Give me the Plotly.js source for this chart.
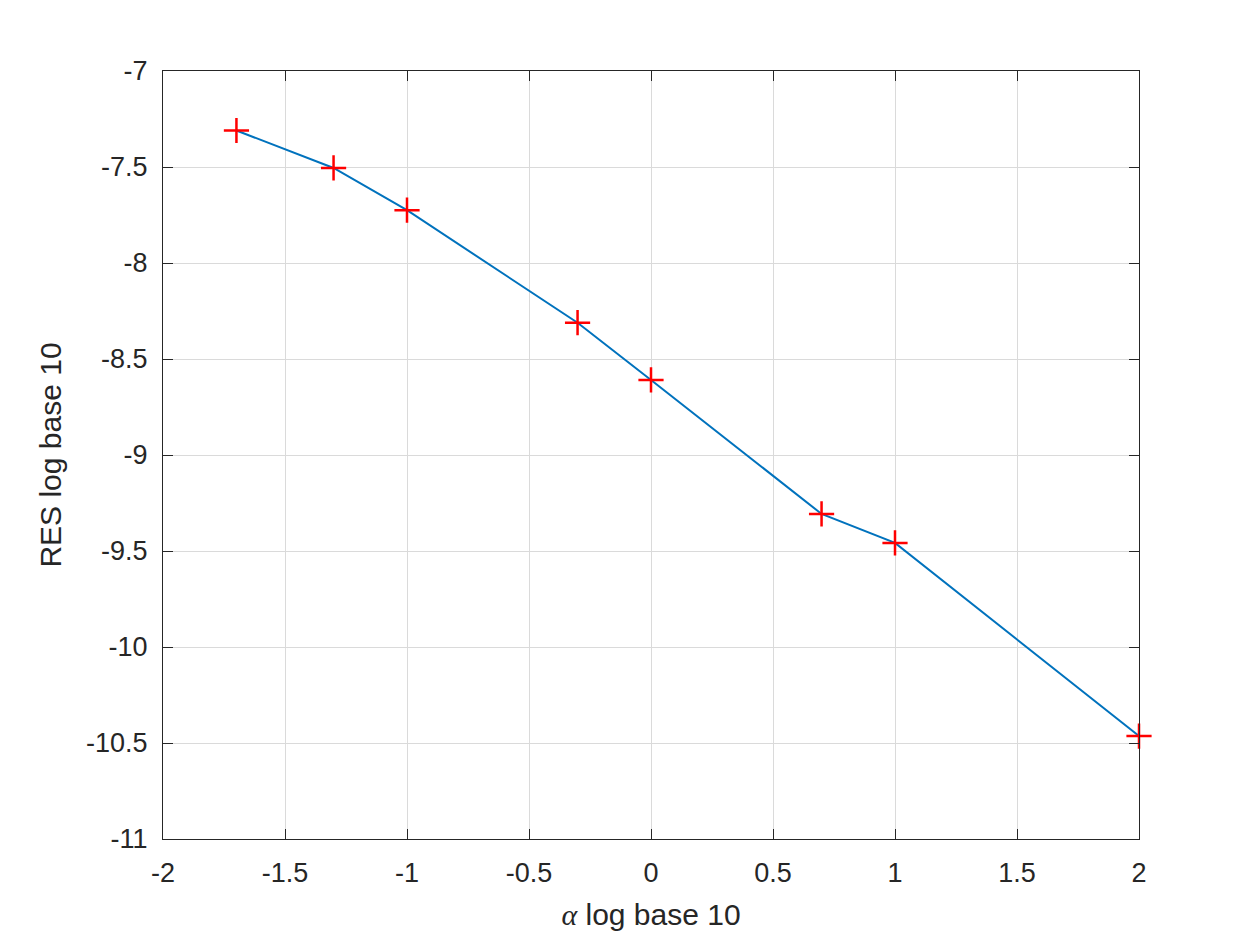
<!DOCTYPE html>
<html>
<head>
<meta charset="utf-8">
<script src="https://cdn.plot.ly/plotly-3.0.1.min.js"></script>
<style>
  html, body { margin: 0; padding: 0; background: #fff; }
  #chart { width: 1260px; height: 945px; }
</style>
</head>
<body>
<div id="chart"></div>
<script>
// alpha (log10) and residual (log10)
const alphaLog = [-1.699, -1.301, -1, -0.301, 0, 0.699, 1, 2];
const resLog = [-7.31, -7.505, -7.725, -8.311, -8.609, -9.307, -9.458, -10.464];

const xTicks = [-2, -1.5, -1, -0.5, 0, 0.5, 1, 1.5, 2];
const xTickText = ['-2', '-1.5', '-1', '-0.5', '0', '0.5', '1', '1.5', '2'];
const yTicks = [-11, -10.5, -10, -9.5, -9, -8.5, -8, -7.5, -7];
const yTickText = ['-11', '-10.5', '-10', '-9.5', '-9', '-8.5', '-8', '-7.5', '-7'];

const axisColor = '#262626';
const fontFamily = 'Liberation Sans, Arial, Helvetica, sans-serif';
const alphaSpan = '<span style="font-family:\'Liberation Serif\',serif;font-style:italic">α</span>';

const lineTrace = {
    x: alphaLog,
    y: resLog,
    type: 'scatter',
    mode: 'lines',
    line: { color: '#0072BD', width: 2 },
    hoverinfo: 'skip',
    cliponaxis: false
};

const markerTrace = {
    x: alphaLog,
    y: resLog,
    type: 'scatter',
    mode: 'markers',
    marker: {
        symbol: 'cross-thin',
        size: 18,
        color: '#ff0000',
        line: { color: '#ff0000', width: 2.5 }
    },
    cliponaxis: false
};

const axisCommon = {
    showline: true,
    linecolor: axisColor,
    linewidth: 1,
    mirror: 'ticks',
    ticks: 'inside',
    ticklen: 10,
    tickwidth: 1,
    tickcolor: axisColor,
    showgrid: true,
    gridcolor: '#dadada',
    gridwidth: 1,
    zeroline: false,
    tickfont: { family: fontFamily, size: 27, color: axisColor },
    tickmode: 'array'
};

const layout = {
    width: 1260,
    height: 945,
    margin: { l: 163, r: 121, t: 71, b: 106 },
    paper_bgcolor: '#ffffff',
    plot_bgcolor: '#ffffff',
    showlegend: false,
    xaxis: Object.assign({}, axisCommon, {
        range: [-2, 2],
        tickvals: xTicks,
        ticktext: xTickText,
        ticklabelstandoff: 10,
        title: { text: alphaSpan + ' log base 10', font: { family: fontFamily, size: 30, color: axisColor }, standoff: 16 }
    }),
    yaxis: Object.assign({}, axisCommon, {
        range: [-11, -7],
        tickvals: yTicks,
        ticktext: yTickText,
        ticklabelstandoff: 9,
        title: { text: 'RES log base 10', font: { family: fontFamily, size: 30, color: axisColor }, standoff: 15 }
    })
};

Plotly.newPlot('chart', [lineTrace, markerTrace], layout, { staticPlot: true });
</script>
</body>
</html>
